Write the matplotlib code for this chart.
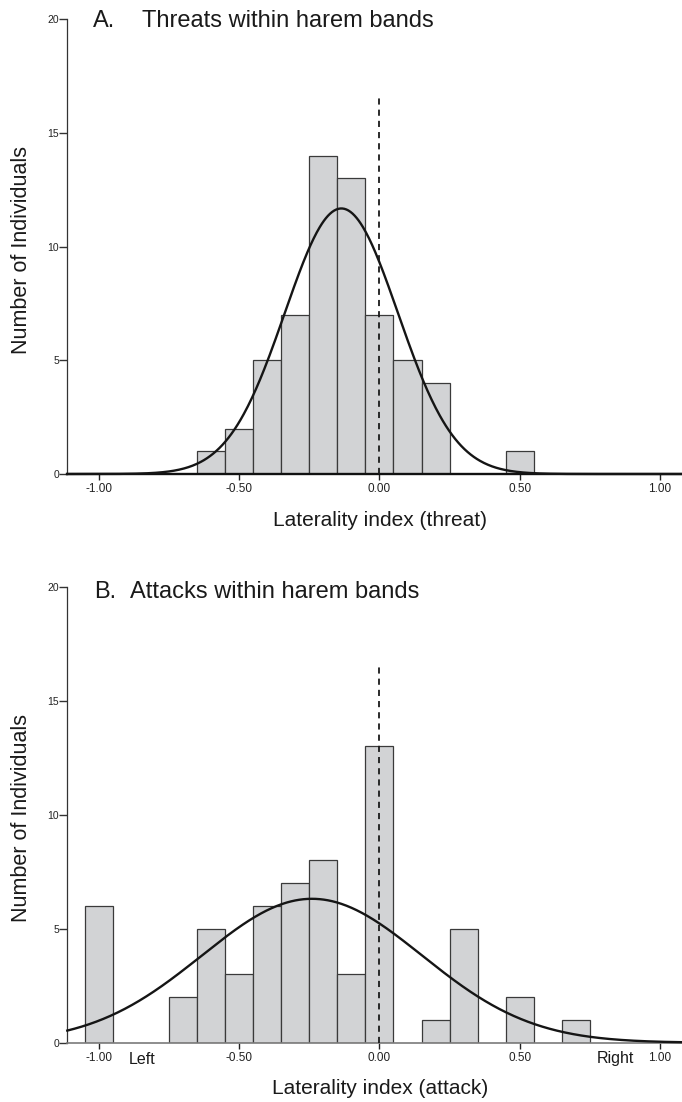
import numpy as np
import matplotlib
matplotlib.use("Agg")
import matplotlib.pyplot as plt

# Histogram data: bin centres (laterality index) and number of individuals
threat_centers = [-0.6, -0.5, -0.4, -0.3, -0.2, -0.1, 0.0, 0.1, 0.2, 0.5]
threat_counts = [1, 2, 5, 7, 14, 13, 7, 5, 4, 1]

attack_centers = [-1.0, -0.7, -0.6, -0.5, -0.4, -0.3, -0.2, -0.1, 0.0, 0.2, 0.3, 0.5, 0.7]
attack_counts = [6, 2, 5, 3, 6, 7, 8, 3, 13, 1, 5, 2, 1]

bin_width = 0.1
x_ticks = [-1.0, -0.5, 0.0, 0.5, 1.0]
x_tick_labels = ["-1.00", "-0.50", "0.00", "0.50", "1.00"]
y_ticks = [0, 5, 10, 15, 20]
y_tick_labels = ["0", "5", "10", "15", "20"]

FONT = ["Liberation Sans", "DejaVu Sans"]
plt.rcParams["font.family"] = FONT

W, H = 682, 1102
fig = plt.figure(figsize=(W / 100, H / 100), dpi=100)

XLIM = (-1.112, 1.078)
BAR_FACE = "#d2d3d5"
BAR_EDGE = "#3a3a3a"
TEXT = "#1a1a1a"


def px(x, y):
    """Figure fraction from pixel position (origin top-left)."""
    return x / W, 1 - y / H


def panel(rect, centers, counts, base_color, base_lw):
    ax = fig.add_axes(rect)
    ax.bar(centers, counts, width=bin_width, color=BAR_FACE,
           edgecolor=BAR_EDGE, linewidth=0.9, zorder=2)

    # fitted normal curve scaled to counts
    c = np.asarray(centers, dtype=float)
    n = np.asarray(counts, dtype=float)
    total = n.sum()
    mean = (c * n).sum() / total
    sd = np.sqrt(((c - mean) ** 2 * n).sum() / (total - 1))
    xs = np.linspace(XLIM[0], XLIM[1], 600)
    ys = total * bin_width * np.exp(-0.5 * ((xs - mean) / sd) ** 2) / (sd * np.sqrt(2 * np.pi))
    ax.plot(xs, ys, color="#151515", lw=1.7, zorder=4, clip_on=False)

    # reference line at zero laterality
    ax.plot([0, 0], [0, 16.6], color="#1a1a1a", lw=1.3,
            dashes=(3.4, 2.8), zorder=5)

    ax.set_xlim(*XLIM)
    ax.set_ylim(0, 20)
    ax.set_xticks(x_ticks)
    ax.set_xticklabels(x_tick_labels, fontsize=8.5, color="#222222")
    ax.set_yticks(y_ticks)
    ax.set_yticklabels(y_tick_labels, fontsize=7.5, color="#222222")
    ax.tick_params(axis="x", direction="out", length=4.5, width=1.0,
                   color="#222222", pad=2)
    ax.tick_params(axis="y", direction="out", length=5.5, width=1.0,
                   color="#333333", pad=0.5)
    for s in ("top", "right"):
        ax.spines[s].set_visible(False)
    ax.spines["left"].set_color("#333333")
    ax.spines["left"].set_linewidth(0.9)
    ax.spines["bottom"].set_color(base_color)
    ax.spines["bottom"].set_linewidth(base_lw)
    ax.spines["bottom"].set_zorder(3)
    ax.patch.set_alpha(0)
    return ax


def rect_from_px(left, top, right, bottom):
    return [left / W, 1 - bottom / H, (right - left) / W, (bottom - top) / H]


ax_a = panel(rect_from_px(67.3, 19.3, 682, 474), threat_centers, threat_counts,
             "#111111", 1.7)
ax_b = panel(rect_from_px(67.3, 586.7, 682, 1042.7), attack_centers, attack_counts,
             "#7a7a7a", 1.2)

# panel titles
fig.text(*px(93, 21), "A.", fontsize=17, va="center", ha="left", color=TEXT)
fig.text(*px(142, 21), "Threats within harem bands", fontsize=17,
         va="center", ha="left", color=TEXT)
fig.text(*px(94, 592), "B.", fontsize=17, va="center", ha="left", color=TEXT)
fig.text(*px(130, 592), "Attacks within harem bands", fontsize=17,
         va="center", ha="left", color=TEXT)

# axis labels
fig.text(*px(380, 521), "Laterality index (threat)", fontsize=15,
         ha="center", va="center", color=TEXT)
fig.text(*px(380, 1088), "Laterality index (attack)", fontsize=15,
         ha="center", va="center", color=TEXT)
fig.text(*px(22, 250), "Number of Individuals", fontsize=15.5, rotation=90,
         ha="center", va="center", color=TEXT)
fig.text(*px(22, 818), "Number of Individuals", fontsize=15.5, rotation=90,
         ha="center", va="center", color=TEXT)

# direction labels under the attack axis
fig.text(*px(142, 1059), "Left", fontsize=11.5, ha="center", va="center", color=TEXT)
fig.text(*px(615, 1059), "Right", fontsize=11.5, ha="center", va="center", color=TEXT)

fig.savefig("out.png", dpi=100)
